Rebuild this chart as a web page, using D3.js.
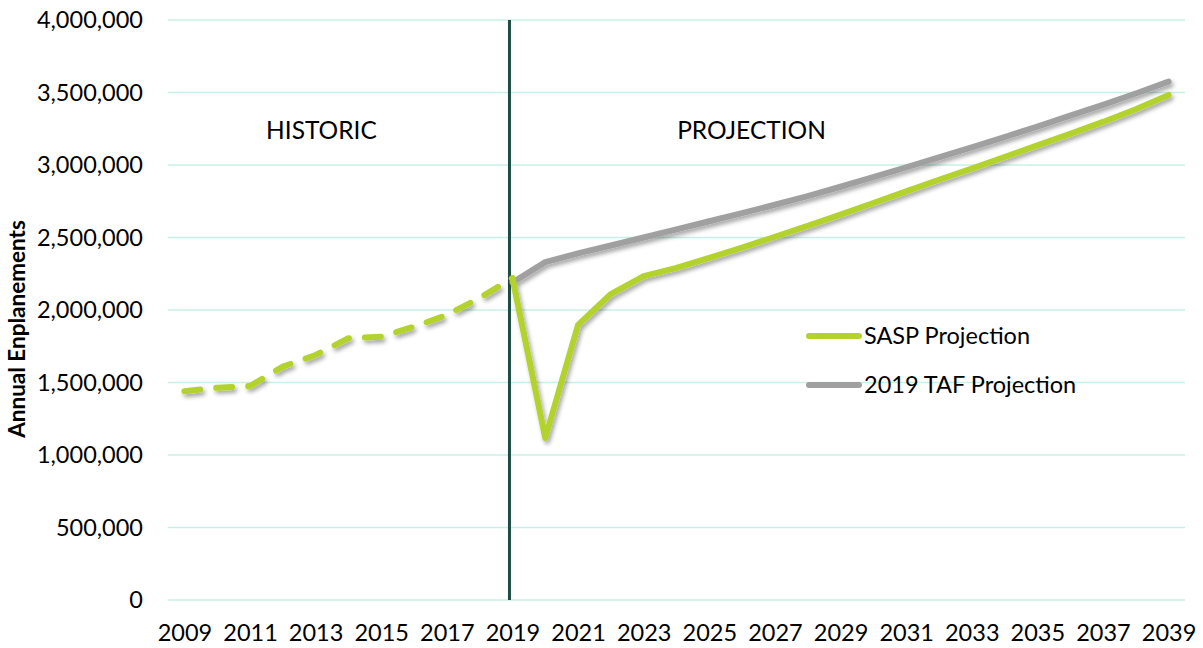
<!DOCTYPE html>
<html>
<head>
<meta charset="utf-8">
<script src="https://cdn.jsdelivr.net/npm/d3@7"></script>
<style>
  body { margin: 0; background: #fff; }
  svg text { font-family: Lato, "Open Sans", sans-serif; fill: #000; }
</style>
</head>
<body>
<div id="chart"></div>
<script>
/* Annual enplanements: historic vs projections */

var years = d3.range(2009, 2040);
var tickYears = years.filter(function(y) { return (y - 2009) % 2 === 0; });
var yTicks = [0, 500000, 1000000, 1500000, 2000000, 2500000, 3000000, 3500000, 4000000];

var historicYears = [2009, 2010, 2011, 2012, 2013, 2014, 2015, 2016, 2017, 2018, 2019];
var historicValues = [1440000, 1464000, 1476000, 1609000, 1690000, 1805000, 1816000, 1885000, 1965000, 2083000, 2220000];

var projYears = [2019, 2020, 2021, 2022, 2023, 2024, 2025, 2026, 2027, 2028, 2029,
                 2030, 2031, 2032, 2033, 2034, 2035, 2036, 2037, 2038, 2039];
var saspValues = [2220000, 1117000, 1897000, 2110000, 2234000, 2290000, 2360000, 2430000, 2505000, 2580000, 2658000,
                  2738000, 2818000, 2898000, 2975000, 3055000, 3135000, 3215000, 3297000, 3385000, 3483000];
var tafValues = [2190000, 2330000, 2390000, 2445000, 2500000, 2556000, 2612000, 2668000, 2726000, 2786000, 2850000,
                 2916000, 2984000, 3053000, 3122000, 3193000, 3265000, 3340000, 3415000, 3493000, 3575000];

var seriesNames = ["SASP Projection", "2019 TAF Projection"];
var seriesColors = ["#b4d22d", "#a0a0a0"];

var width = 1203, height = 648;
var margin = {top: 20, right: 18, bottom: 48, left: 168};

var format = d3.format(",");

var svg = d3.select("#chart")
            .append("svg")
            .attr("width", width)
            .attr("height", height);

var defs = svg.append("defs");
var shadow = defs.append("filter")
    .attr("id", "shadow")
    .attr("x", "-5%").attr("y", "-5%")
    .attr("width", "110%").attr("height", "115%");
shadow.append("feDropShadow")
    .attr("dx", 2).attr("dy", 3)
    .attr("stdDeviation", 2)
    .attr("flood-color", "#000")
    .attr("flood-opacity", 0.35);

var x = d3.scalePoint()
    .domain(years)
    .range([margin.left, width - margin.right])
    .padding(0.5);

var y = d3.scaleLinear()
    .domain([0, 4000000])
    .range([height - margin.bottom, margin.top]);

// gridlines
svg.append("g")
    .attr("class", "grid")
    .selectAll("line")
    .data(yTicks)
    .enter().append("line")
    .attr("x1", margin.left)
    .attr("x2", width - margin.right)
    .attr("y1", function(d) { return y(d); })
    .attr("y2", function(d) { return y(d); })
    .style("stroke", "#c8f0e6")
    .style("stroke-width", 1.5);

// y axis labels
var yAxis = d3.axisLeft(y)
    .tickValues(yTicks)
    .tickFormat(format)
    .tickSize(0)
    .tickPadding(25);

svg.append("g")
    .attr("transform", "translate(" + margin.left + ",0)")
    .call(yAxis)
    .call(function(g) { g.select(".domain").remove(); })
    .selectAll("text")
    .style("font-size", "23.5px")
    .style("font-family", "Lato, sans-serif");

// x axis labels
var xAxis = d3.axisBottom(x)
    .tickValues(tickYears)
    .tickSize(0)
    .tickPadding(24);

svg.append("g")
    .attr("transform", "translate(0," + (height - margin.bottom) + ")")
    .call(xAxis)
    .call(function(g) { g.select(".domain").remove(); })
    .selectAll("text")
    .style("font-size", "23.5px")
    .style("font-family", "Lato, sans-serif");

// axis title
svg.append("text")
    .attr("transform", "translate(25," + (y(2000000) + 19) + ") rotate(-90)")
    .attr("text-anchor", "middle")
    .style("font-size", "22.5px")
    .style("font-weight", "bold")
    .text("Annual Enplanements");

// divider between historic and projection
svg.append("line")
    .attr("x1", x(2019) - 3)
    .attr("x2", x(2019) - 3)
    .attr("y1", y(4000000))
    .attr("y2", y(0))
    .style("stroke", "#1b4d42")
    .style("stroke-width", 3);

svg.append("text")
    .attr("x", (x(2009) + x(2019)) / 2 - 27)
    .attr("y", y(3180000))
    .attr("text-anchor", "middle")
    .style("font-size", "24.5px")
    .text("HISTORIC");

svg.append("text")
    .attr("x", (x(2019) + x(2039)) / 2 - 89)
    .attr("y", y(3180000))
    .attr("text-anchor", "middle")
    .style("font-size", "24.5px")
    .text("PROJECTION");

var line = d3.line()
    .x(function(d) { return x(d[0]); })
    .y(function(d) { return y(d[1]); });

var lines = svg.append("g").attr("filter", "url(#shadow)");

lines.append("path")
    .datum(d3.zip(projYears, tafValues))
    .attr("d", line)
    .style("fill", "none")
    .style("stroke", seriesColors[1])
    .style("stroke-width", 6)
    .style("stroke-linejoin", "round")
    .style("stroke-linecap", "round");

lines.append("path")
    .datum(d3.zip(projYears, saspValues))
    .attr("d", line)
    .style("fill", "none")
    .style("stroke", seriesColors[0])
    .style("stroke-width", 6)
    .style("stroke-linejoin", "round")
    .style("stroke-linecap", "round");

lines.append("path")
    .datum(d3.zip(historicYears, historicValues))
    .attr("d", line)
    .style("fill", "none")
    .style("stroke", seriesColors[0])
    .style("stroke-width", 6)
    .style("stroke-dasharray", "16,16")
    .style("stroke-linecap", "round")
    .style("stroke-linejoin", "round");

// legend
var legend = svg.append("g")
    .attr("transform", "translate(809," + y(1820000) + ")");

seriesNames.forEach(function(name, i) {
    var g = legend.append("g").attr("transform", "translate(0," + (i * 49) + ")");
    g.append("line")
        .attr("x1", 0).attr("x2", 50)
        .style("stroke", seriesColors[i])
        .style("stroke-width", 6)
        .style("stroke-linecap", "round");
    g.append("text")
        .attr("x", 55)
        .attr("dy", "0.35em")
        .style("font-size", "23.5px")
        .text(name);
});
</script>
</body>
</html>
